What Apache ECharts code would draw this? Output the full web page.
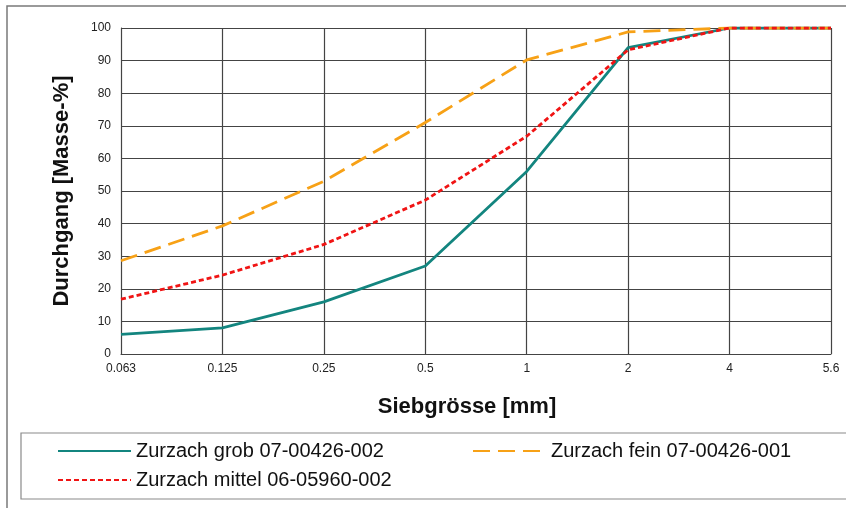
<!DOCTYPE html>
<html>
<head>
<meta charset="utf-8">
<script src="https://cdn.jsdelivr.net/npm/echarts@6/dist/echarts.min.js"></script>
<style>
  html, body { margin: 0; padding: 0; background: #fff; }
  #main { width: 846px; height: 508px; }
</style>
</head>
<body>
<div id="main"></div>
<script>
var sieves = ['0.063', '0.125', '0.25', '0.5', '1', '2', '4', '5.6'];
var grob = [6, 8, 16, 27, 56, 94, 100, 100];
var fein = [28.6, 39.3, 53, 71, 90.2, 98.8, 100, 100];
var mittel = [16.8, 24.2, 33.6, 47.2, 66.8, 93.3, 100, 100];

var nameGrob = 'Zurzach grob 07-00426-002';
var nameFein = 'Zurzach fein 07-00426-001';
var nameMittel = 'Zurzach mittel 06-05960-002';

var myChart = echarts.init(document.getElementById('main'));

var fontFam = 'Liberation Sans, Arial, sans-serif';
var legendText = { fontFamily: fontFam, fontSize: 20, color: '#111' };

function makeLegend(name, left, top) {
    return {
        data: [name], left: left, top: top, padding: 0,
        itemWidth: 73, itemHeight: 4,
        itemStyle: { opacity: 0 },
        textStyle: legendText
    };
}

var option = {
    animation: false,
    backgroundColor: '#fff',
    textStyle: { fontFamily: fontFam },
    graphic: [
        {
            type: 'polyline',
            shape: { points: [[7, 508], [7, 6], [846, 6]] },
            style: { stroke: '#7a7a7a', lineWidth: 1.5, fill: null }
        },
        {
            type: 'polyline',
            shape: { points: [[850, 433], [21, 433], [21, 499], [850, 499]] },
            style: { stroke: '#8a8a8a', lineWidth: 1.2, fill: null }
        }
    ],
    legend: [
        makeLegend(nameGrob, 57, 441),
        makeLegend(nameFein, 472, 441),
        makeLegend(nameMittel, 57, 470)
    ],
    grid: { left: 121, right: 15, top: 28, bottom: 154 },
    xAxis: {
        type: 'category',
        data: sieves,
        boundaryGap: false,
        name: 'Siebgrösse [mm]',
        nameLocation: 'middle',
        nameGap: 42,
        nameTextStyle: { fontSize: 22, fontWeight: 'bold', color: '#111', padding: [0, 18, 0, 0] },
        axisLine: { lineStyle: { color: '#444', width: 1 } },
        axisTick: { show: false },
        axisLabel: { fontSize: 12, color: '#222', margin: 9 },
        splitLine: { show: true, lineStyle: { color: '#444', width: 1.2 } }
    },
    yAxis: {
        type: 'value',
        min: 0,
        max: 100,
        interval: 10,
        name: 'Durchgang [Masse-%]',
        nameLocation: 'middle',
        nameGap: 48,
        nameTextStyle: { fontSize: 22, fontWeight: 'bold', color: '#111' },
        axisLine: { show: true, lineStyle: { color: '#444', width: 1 } },
        axisTick: { show: false },
        axisLabel: { fontSize: 12, color: '#222', margin: 10 },
        splitLine: { show: true, lineStyle: { color: '#444', width: 1.2 } }
    },
    series: [
        {
            name: nameGrob,
            type: 'line',
            data: grob,
            symbol: 'none',
            z: 3,
            itemStyle: { color: '#13857f' },
            lineStyle: { color: '#13857f', width: 2.8 }
        },
        {
            name: nameFein,
            type: 'line',
            data: fein,
            symbol: 'none',
            z: 4,
            itemStyle: { color: '#f7a116' },
            lineStyle: { color: '#f7a116', width: 2.8, type: [17, 8] }
        },
        {
            name: nameMittel,
            type: 'line',
            data: mittel,
            symbol: 'none',
            z: 5,
            itemStyle: { color: '#f01414' },
            lineStyle: { color: '#f01414', width: 2.8, type: [5, 3] }
        }
    ]
};

myChart.setOption(option);
</script>
</body>
</html>
